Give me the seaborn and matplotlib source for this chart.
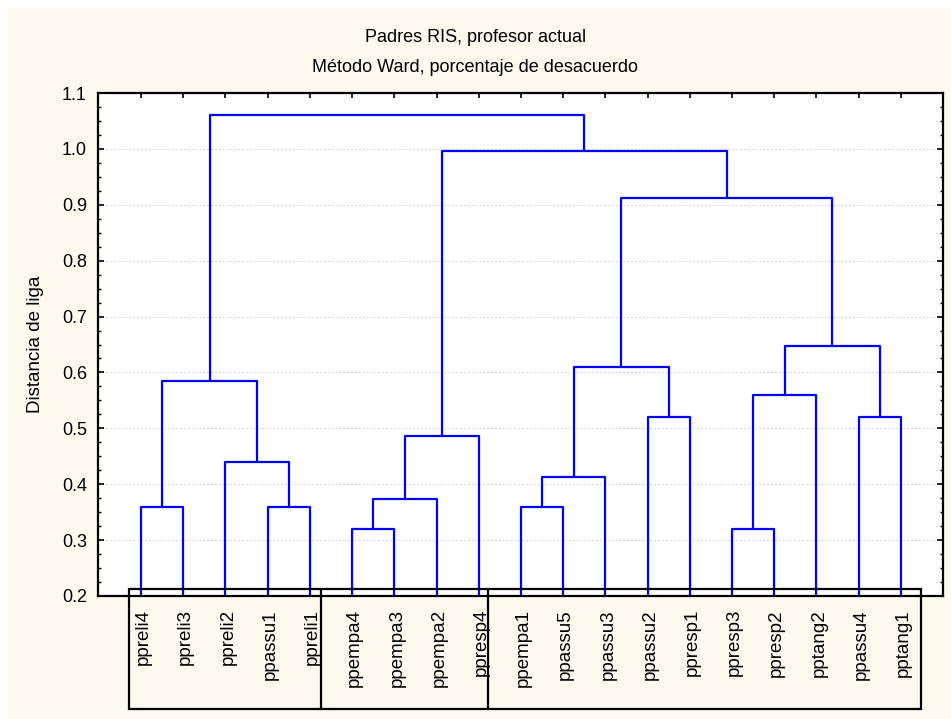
import numpy as np
import pandas as pd
import seaborn as sns
import matplotlib
matplotlib.use("Agg")
import matplotlib.pyplot as plt
from matplotlib.patches import Rectangle
from matplotlib.ticker import MultipleLocator
import matplotlib.transforms as mtransforms

# Leaf variables in dendrogram order
leaves = ["ppreli4", "ppreli3", "ppreli2", "ppassu1", "ppreli1",
          "ppempa4", "ppempa3", "ppempa2", "ppresp4",
          "ppempa1", "ppassu5", "ppassu3", "ppassu2", "ppresp1",
          "ppresp3", "ppresp2", "pptang2", "ppassu4", "pptang1"]

# Ward linkage steps: cluster ids follow scipy convention (leaves 0..18, new clusters 19..)
merge_left = [0, 3, 2, 19, 5, 23, 24, 9, 26, 12, 27, 14, 30, 17, 31, 29, 25, 22]
merge_right = [1, 4, 20, 21, 6, 7, 8, 10, 11, 13, 28, 15, 16, 18, 32, 33, 34, 35]
merge_height = [0.36, 0.36, 0.44, 0.585, 0.32, 0.373, 0.487, 0.36, 0.413,
                0.52, 0.61, 0.32, 0.56, 0.52, 0.648, 0.913, 0.997, 1.06]

# Label blocks drawn under the axis (boundaries in leaf units)
block_edges = [-0.29, 4.27, 8.22, 18.48]

title_1 = "Padres RIS, profesor actual"
title_2 = "Método Ward, porcentaje de desacuerdo"
y_label = "Distancia de liga"

sns.set_style("ticks")
plt.rcParams["font.family"] = ["Liberation Sans", "DejaVu Sans"]
plt.rcParams["text.color"] = "black"
plt.rcParams["axes.labelcolor"] = "black"
plt.rcParams["ytick.color"] = "black"
plt.rcParams["xtick.color"] = "black"

# Build the U-shaped link paths
n = len(leaves)
pos = {i: float(i) for i in range(n)}
hgt = {i: 0.0 for i in range(n)}
rows = []
for k, (a, b, h) in enumerate(zip(merge_left, merge_right, merge_height)):
    xs = [pos[a], pos[a], pos[b], pos[b]]
    ys = [hgt[a], h, h, hgt[b]]
    for j, (xv, yv) in enumerate(zip(xs, ys)):
        rows.append({"link": k, "order": j, "x": xv, "y": yv})
    cid = n + k
    pos[cid] = (pos[a] + pos[b]) / 2.0
    hgt[cid] = h
links = pd.DataFrame(rows)

fig = plt.figure(figsize=(9.51, 7.19), dpi=100)
fig.patch.set_facecolor("white")
fig.patches.append(Rectangle((8 / 951, 0), 1 - 8 / 951, 1 - 8 / 719,
                             transform=fig.transFigure, facecolor="#FDF9EF",
                             edgecolor="none", zorder=-10))

ax = fig.add_axes([98 / 951, 1 - 596 / 719, (943 - 98) / 951, (596 - 93) / 719])
ax.set_facecolor("white")

# Horizontal dotted grid at major ticks
for yv in np.arange(0.3, 1.05, 0.1):
    ax.axhline(yv, color="#C8C8C8", lw=0.7, ls=(0, (1.5, 2.5)), zorder=0)

sns.lineplot(data=links, x="x", y="y", units="link", estimator=None, sort=False,
             color="#0000FF", lw=1.6, ax=ax, legend=False, zorder=3)

ax.set_xlim(-1.02, 19.0)
ax.set_ylim(0.2, 1.1)
ax.set_xlabel("")
ax.set_ylabel(y_label, fontsize=13.5, labelpad=13)

ax.yaxis.set_major_locator(MultipleLocator(0.1))
ax.yaxis.set_minor_locator(MultipleLocator(0.025))
ax.set_yticks(np.round(np.arange(0.2, 1.15, 0.1), 1))
ax.set_yticklabels([f"{v:.1f}" for v in np.arange(0.2, 1.15, 0.1)], fontsize=13)
ax.tick_params(axis="y", which="major", direction="in", length=4, width=1.2,
               left=True, right=True, pad=8, color="black")
ax.tick_params(axis="y", which="minor", direction="in", length=2.5, width=1.0,
               left=True, right=True)

# Leaf ticks on the top spine only
ax.set_xticks(range(n))
ax.tick_params(axis="x", which="both", direction="in", length=3.5, width=1.2,
               top=True, bottom=False, labelbottom=False, labeltop=False)

for s in ax.spines.values():
    s.set_linewidth(1.6)
    s.set_color("black")
    s.set_zorder(5)

# Leaf labels, rotated under the axis
trans = mtransforms.blended_transform_factory(ax.transData, ax.transAxes)
for i, lab in enumerate(leaves):
    ax.text(i + 0.06, -0.026, lab, transform=trans, rotation=90,
            ha="center", va="top", fontsize=13.5, clip_on=False, zorder=6)

# Frame around the label blocks
box_top = 0.014
box_bot = -(709 - 596) / 503
ax.add_patch(Rectangle((block_edges[0], box_bot), block_edges[-1] - block_edges[0],
                       box_top - box_bot, transform=trans, fill=False,
                       edgecolor="black", lw=1.6, clip_on=False, zorder=6))
for xe in block_edges[1:-1]:
    ax.plot([xe, xe], [box_bot, box_top], transform=trans, color="black",
            lw=1.6, clip_on=False, zorder=6)

fig.text(0.5, 1 - 38 / 719, title_1, ha="center", va="center", fontsize=13)
fig.text(0.5, 1 - 68 / 719, title_2, ha="center", va="center", fontsize=13)

fig.savefig("out.png", dpi=100, facecolor=fig.get_facecolor())
